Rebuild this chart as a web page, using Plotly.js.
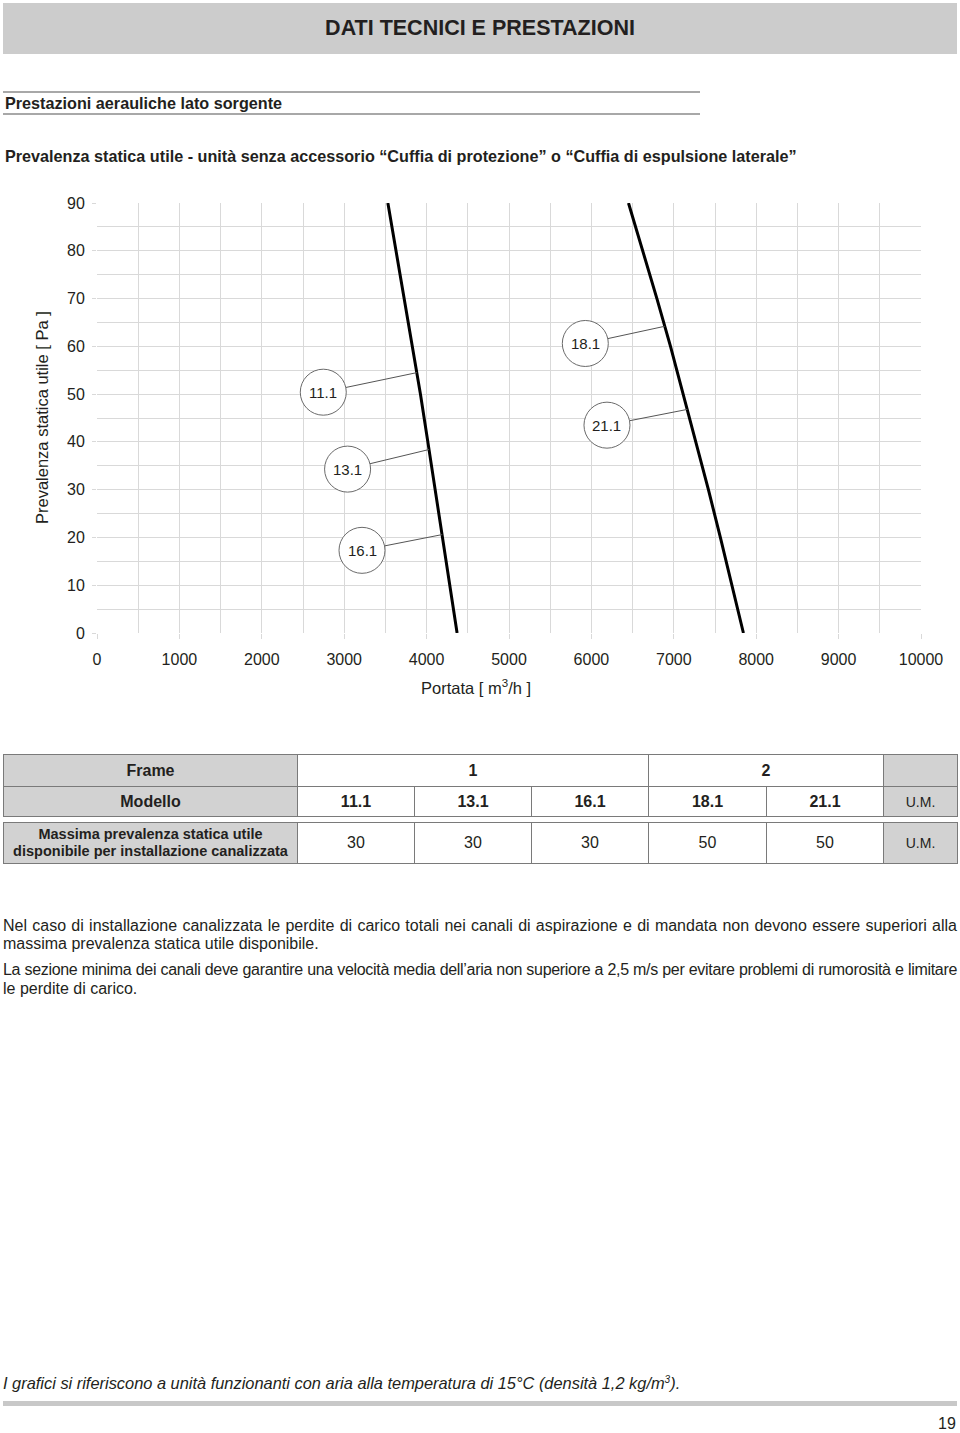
<!DOCTYPE html>
<html><head><meta charset="utf-8">
<script src="https://cdn.plot.ly/plotly-3.0.1.min.js"></script>
<style>
body{margin:0;width:960px;height:1433px;background:#fff;font-family:"Liberation Sans",Arial,sans-serif;color:#231f20;position:relative;overflow:hidden}
.abs{position:absolute}
#hdr{left:3px;top:3px;width:954px;height:51px;background:#cccccc;font-weight:bold;font-size:21.5px;line-height:51px;text-align:center}
.rule{height:2px;background:#a8a8a8}
.h2{font-weight:bold;font-size:16.2px;white-space:nowrap}
#chart{left:0;top:180px;width:960px;height:520px}
table{border-collapse:collapse;table-layout:fixed}
td{border:1px solid #7a7a7a;text-align:center;padding:0;font-size:16px}
td.g{background:#d2d2d2}
td.b{font-weight:bold}
td.um{font-size:14px}
.p{left:3px;width:954px;font-size:16px;white-space:nowrap;line-height:18px}
.j{text-align:justify;text-align-last:justify}
</style></head><body>
<div id="hdr" class="abs">DATI TECNICI E PRESTAZIONI</div>
<div class="abs rule" style="left:3px;top:91px;width:697px"></div>
<div class="abs h2" style="left:5px;top:94px">Prestazioni aerauliche lato sorgente</div>
<div class="abs rule" style="left:3px;top:113px;width:697px"></div>
<div class="abs h2" style="left:5px;top:147px">Prevalenza statica utile - unità senza accessorio “Cuffia di protezione” o “Cuffia di espulsione laterale”</div>
<div id="chart" class="abs"></div>
<div id="tbl" class="abs" style="left:3px;top:754px"></div>
<div class="abs p j" style="top:917px">Nel caso di installazione canalizzata le perdite di carico totali nei canali di aspirazione e di mandata non devono essere superiori alla</div>
<div class="abs p" style="top:935px">massima prevalenza statica utile disponibile.</div>
<div class="abs p j" style="top:961px">La sezione minima dei canali deve garantire una velocità media dell’aria non superiore a 2,5 m/s per evitare problemi di rumorosità e limitare</div>
<div class="abs p" style="top:980px">le perdite di carico.</div>
<div class="abs p" style="top:1371px;font-style:italic;font-size:16.4px">I grafici si riferiscono a unità funzionanti con aria alla temperatura di 15°C (densità 1,2 kg/m<sup style="font-size:10px;vertical-align:6px">3</sup>).</div>
<div class="abs" style="left:3px;top:1401px;width:954px;height:5px;background:#c8c8c8"></div>
<div class="abs" style="left:938px;top:1415px;font-size:16px">19</div>
<script>
// ---- chart data ----
const pressure = [90, 80, 70, 60, 50, 40, 30, 20, 10, 0];
const flowFrame1 = [3530, 3630, 3730, 3830, 3925, 4015, 4105, 4195, 4280, 4370];
const flowFrame2 = [6450, 6625, 6795, 6960, 7115, 7270, 7420, 7565, 7705, 7845];
const xTickVals = [0, 1000, 2000, 3000, 4000, 5000, 6000, 7000, 8000, 9000, 10000];
const yTickVals = [0, 10, 20, 30, 40, 50, 60, 70, 80, 90];
const labelNames = ['11.1', '13.1', '16.1', '18.1', '21.1'];
const labelFlow = [2746, 3041, 3216, 5926, 6189];
const labelPressure = [50.4, 34.3, 17.3, 60.6, 43.5];
const leaderPressure = [54.5, 38.4, 20.6, 64.2, 46.8];
const labelCurve = [0, 0, 0, 1, 1];
// ---- table data ----
const frames = ['1', '2'];
const frameSpan = [3, 2];
const models = ['11.1', '13.1', '16.1', '18.1', '21.1'];
const maxPressure = [30, 30, 30, 50, 50];

const curves = [flowFrame1, flowFrame2];
function flowAt(c, p) {
  const f = curves[c];
  for (let i = 0; i < pressure.length - 1; i++) {
    const p0 = pressure[i], p1 = pressure[i + 1];
    if (p <= p0 && p >= p1) {
      const t = (p0 - p) / (p0 - p1);
      return f[i] + t * (f[i + 1] - f[i]);
    }
  }
  return f[f.length - 1];
}

const FONT = '"Liberation Sans", Arial, sans-serif';
const traces = curves.map(f => ({
  x: f, y: pressure, type: 'scatter', mode: 'lines',
  line: {color: '#000', width: 3}, hoverinfo: 'skip', showlegend: false
}));

const shapes = [], annotations = [];
labelNames.forEach((n, i) => {
  shapes.push({type: 'line', xref: 'x', yref: 'y', x0: labelFlow[i], y0: labelPressure[i],
    x1: flowAt(labelCurve[i], leaderPressure[i]), y1: leaderPressure[i],
    line: {color: '#555', width: 1}});
});
labelNames.forEach((n, i) => {
  shapes.push({type: 'circle', xref: 'x', yref: 'y', xsizemode: 'pixel', ysizemode: 'pixel',
    xanchor: labelFlow[i], yanchor: labelPressure[i], x0: -23, x1: 23, y0: -23, y1: 23,
    fillcolor: '#fff', line: {color: '#6a6a6a', width: 1}});
  annotations.push({xref: 'x', yref: 'y', x: labelFlow[i], y: labelPressure[i], text: n,
    showarrow: false, font: {family: FONT, size: 15, color: '#231f20'}});
});
annotations.push({xref: 'paper', yref: 'paper', x: 0, y: 0.5, xanchor: 'center', yanchor: 'middle',
  text: 'Prevalenza statica utile [ Pa ]', textangle: -90, showarrow: false,
  xshift: -55, font: {family: FONT, size: 16.5, color: '#231f20'}});
annotations.push({xref: 'paper', yref: 'paper', x: 0.5, y: 0, xanchor: 'center', yanchor: 'middle',
  text: 'Portata [ m<sup>3</sup>/h ]', showarrow: false, xshift: -33, yshift: -54,
  font: {family: FONT, size: 16.5, color: '#231f20'}});

const grid = '#d9d9d9';
const layout = {
  width: 960, height: 520,
  margin: {l: 97, r: 39, t: 23, b: 67},
  paper_bgcolor: '#fff', plot_bgcolor: '#fff',
  font: {family: FONT, size: 16, color: '#231f20'},
  xaxis: {range: [0, 10000], tickvals: xTickVals, ticktext: xTickVals.map(String),
    showgrid: true, gridcolor: grid, gridwidth: 1, zeroline: false, showline: false,
    ticks: 'outside', ticklen: 5, tickcolor: grid, ticklabelstandoff: 7,
    minor: {dtick: 500, tick0: 0, showgrid: true, gridcolor: grid, ticks: ''},
    tickfont: {size: 16}},
  yaxis: {range: [0, 90], tickvals: yTickVals, ticktext: yTickVals.map(String),
    showgrid: true, gridcolor: grid, gridwidth: 1, zeroline: false, showline: false,
    ticks: 'outside', ticklen: 4, tickcolor: grid, ticklabelstandoff: 4,
    minor: {dtick: 5, tick0: 0, showgrid: true, gridcolor: grid, ticks: ''},
    tickfont: {size: 16}},
  shapes: shapes, annotations: annotations, showlegend: false
};
Plotly.newPlot('chart', traces, layout, {staticPlot: true, displayModeBar: false});

// ---- table ----
const colW = [294, 117, 117, 117, 118, 117, 74];
let h = '<table style="width:954px"><colgroup>' + colW.map(w => '<col style="width:' + w + 'px">').join('') + '</colgroup>';
h += '<tr style="height:32px"><td class="g b">Frame</td>' +
  frames.map((f, i) => '<td class="b" colspan="' + frameSpan[i] + '">' + f + '</td>').join('') + '<td class="g"></td></tr>';
h += '<tr style="height:30px"><td class="g b">Modello</td>' +
  models.map(m => '<td class="b">' + m + '</td>').join('') + '<td class="g um">U.M.</td></tr>';
h += '<tr style="height:6px"><td colspan="7" style="border:none;border-top:1px solid #7a7a7a;border-bottom:1px solid #7a7a7a"></td></tr>';
h += '<tr style="height:41px"><td class="g b" style="font-size:14.5px;line-height:17px">Massima prevalenza statica utile<br>disponibile per installazione canalizzata</td>' +
  maxPressure.map(v => '<td>' + v + '</td>').join('') + '<td class="g um">U.M.</td></tr>';
h += '</table>';
document.getElementById('tbl').innerHTML = h;

// keep justified lines within their box by tightening letter spacing
document.querySelectorAll('.p').forEach(el => {
  const s = document.createElement('span');
  s.style.cssText = 'visibility:hidden;position:absolute;white-space:nowrap;font:inherit';
  s.innerHTML = el.innerHTML;
  el.appendChild(s);
  const w = s.getBoundingClientRect().width;
  el.removeChild(s);
  if (w > 950) {
    const n = el.textContent.length;
    el.style.letterSpacing = ((950 - w) / n) + 'px';
  }
});
</script>
</body></html>
